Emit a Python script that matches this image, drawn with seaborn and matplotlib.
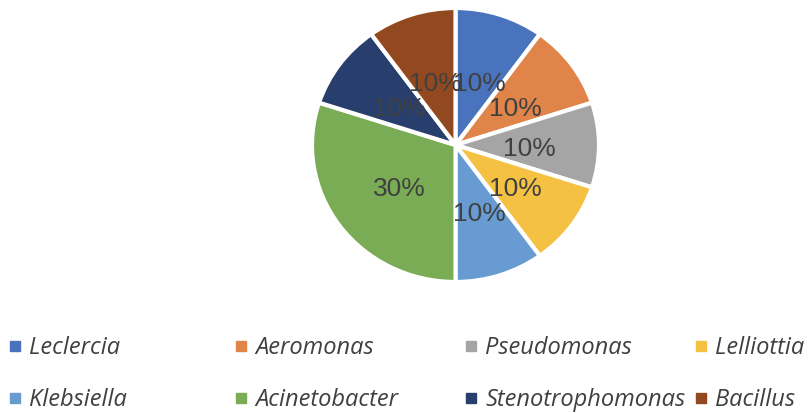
import matplotlib.pyplot as plt
import seaborn as sns
from matplotlib.lines import Line2D

# Genus shares (percent)
genera = ['Leclercia', 'Aeromonas', 'Pseudomonas', 'Lelliottia',
          'Klebsiella', 'Acinetobacter', 'Stenotrophomonas', 'Bacillus']
shares = [10, 10, 10, 10, 10, 30, 10, 10]
colors = ['#4A73BE', '#E0844A', '#A5A5A5', '#F5C142',
          '#689BD1', '#7AAB55', '#283F6E', '#93491F']

sns.set_theme(style='white')
plt.rcParams['font.family'] = ['Liberation Sans', 'DejaVu Sans']
text_color = '#404040'

fig = plt.figure(figsize=(8.09, 4.13), dpi=100)
# original pie is slightly wider than tall, so no equal aspect
ax = fig.add_axes([312 / 809, 131 / 413, 287 / 809, 274 / 413])

wedges, texts, autotexts = ax.pie(
    shares, colors=sns.color_palette(colors), startangle=90, counterclock=False,
    autopct='%1.0f%%', pctdistance=0.5,
    wedgeprops=dict(edgecolor='white', linewidth=3),
    textprops=dict(color=text_color, fontsize=19))
# labels sit a touch lower in the original
for t in autotexts:
    x, y = t.get_position()
    t.set_position((x + 0.012, y - 0.03))
ax.set_aspect('auto')
ax.set_xlim(-1.0, 1.0)
ax.set_ylim(-1.0, 1.0)

# legend: 4 columns x 2 rows, evenly spaced like the original
col_x = [9, 235, 465, 695]
for i, x in enumerate(col_x):
    idx = [i, i + 4]
    handles = [Line2D([], [], marker='s', linestyle='none', markersize=7,
                      markerfacecolor=colors[j], markeredgecolor=colors[j]) for j in idx]
    fig.legend(handles, [genera[j] for j in idx], loc='center left',
               bbox_to_anchor=(x / 809, 1 - 374 / 413), frameon=False,
               borderpad=0, borderaxespad=0, handlelength=0.55, handletextpad=0.3,
               labelspacing=1.2, labelcolor=text_color,
               prop=dict(family='Open Sans', style='italic', size=17))

fig.savefig('out.png', dpi=100)
